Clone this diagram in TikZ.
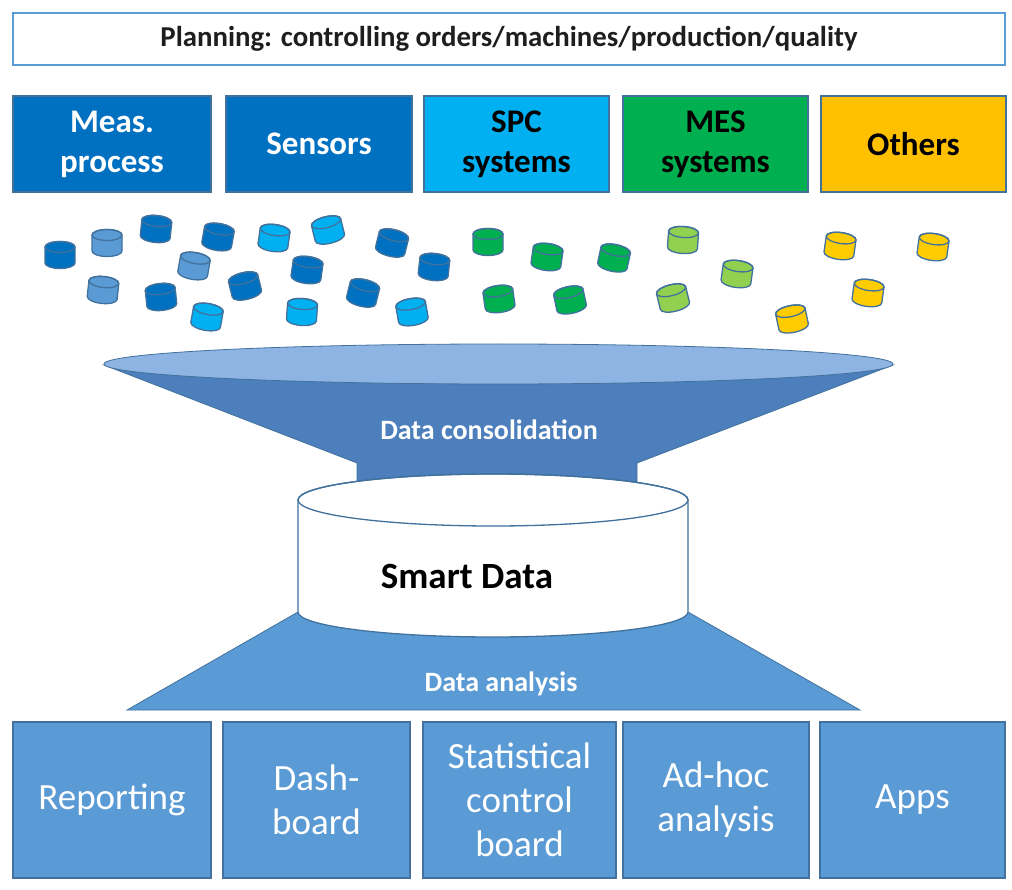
\documentclass[tikz,border=0pt]{standalone}
\usepackage{fontspec}
\setmainfont{Carlito}
\usepackage{tikz}
\definecolor{darkBlue}{RGB}{0,112,192}
\definecolor{skyBlue}{RGB}{0,176,240}
\definecolor{mesGreen}{RGB}{0,176,80}
\definecolor{lightGreen}{RGB}{146,208,80}
\definecolor{othersYellow}{RGB}{255,192,0}
\definecolor{drumYellow}{RGB}{255,204,0}
\definecolor{paleBlue}{RGB}{91,155,213}
\definecolor{lineBlue}{RGB}{65,113,156}
\definecolor{funnelDark}{RGB}{76,127,188}
\definecolor{funnelLight}{RGB}{142,180,227}
\definecolor{titleGray}{RGB}{30,30,30}
\tikzstyle{diagram} = [x = 1pt, y = -1pt]
\tikzstyle{planBoxStyle} = [draw=paleBlue, line width=2pt, fill=white, minimum width=992pt, minimum height=52pt, inner sep=0pt, text=titleGray, font=\fontsize{28.8}{32}\selectfont\bfseries]
\tikzstyle{sourceBoxStyle} = [draw=lineBlue, line width=1.2pt, minimum height=96pt, inner sep=0pt, align=center, font=\fontsize{33}{40}\selectfont\bfseries]
\tikzstyle{toolBoxStyle} = [draw=lineBlue, line width=1.2pt, fill=paleBlue, text=white, minimum height=156pt, inner sep=0pt, align=center, font=\fontsize{37}{44}\selectfont]
\tikzstyle{drumStyle} = [draw=lineBlue, line width=1.3pt]
\tikzstyle{funnelText} = [text=white, font=\fontsize{28}{32}\selectfont\bfseries]
\newcommand{\smallDrum}[4]{
  \begin{scope}[shift={(#1,#2)}, rotate=#3]
    \filldraw [drumStyle, fill=#4] (-15,8) arc [start angle=180, end angle=0, x radius=15, y radius=5.5] -- (15,-8) arc [start angle=0, end angle=-180, x radius=15, y radius=5.5] -- cycle;
    \draw [drumStyle] (0,-8) ellipse [x radius=15, y radius=5.5];
  \end{scope}
}

\begin{document}
\begin{tikzpicture}[diagram]
  \useasboundingbox (0,0) rectangle (1012,890);

  \node [planBoxStyle] (plan) at (509,39) {Planning: controlling orders/machines/production/quality};

  \node [sourceBoxStyle, fill=darkBlue, text=white, minimum width=198pt] (meas) at (112,144) {Meas.\\process};
  \node [sourceBoxStyle, fill=darkBlue, text=white, minimum width=186pt] (sensors) at (319,144) {Sensors};
  \node [sourceBoxStyle, fill=skyBlue, minimum width=185pt] (spc) at (516.5,144) {SPC\\systems};
  \node [sourceBoxStyle, fill=mesGreen, minimum width=185pt] (mes) at (715.5,144) {MES\\systems};
  \node [sourceBoxStyle, fill=othersYellow, minimum width=185pt] (others) at (913.5,144) {Others};

  \foreach \x/\y/\a/\c in {60/255/0/darkBlue, 107/243/0/paleBlue, 156/229/-6/darkBlue, 218/237/-10/darkBlue,
    274/238/-8/skyBlue, 328/230/14/skyBlue, 392/243/-14/darkBlue, 434/267/-6/darkBlue, 194/266/-10/paleBlue,
    307/270/-8/darkBlue, 103/290/-6/paleBlue, 161/297/6/darkBlue, 245/286/14/darkBlue, 363/293/-14/darkBlue,
    207/317/-10/skyBlue, 302/312/-4/skyBlue, 412/312/10/skyBlue,
    488/242/0/mesGreen, 547/257/-8/mesGreen, 614/258/-12/mesGreen, 499/299/8/mesGreen, 570/300/12/mesGreen,
    683/240/-4/lightGreen, 737/274/-8/lightGreen, 673/298/14/lightGreen,
    840/246/-8/drumYellow, 933/247/-8/drumYellow, 868/293/-8/drumYellow, 792/319/12/drumYellow}
    \smallDrum{\x}{\y}{\a}{\c};

  \filldraw [fill=funnelDark, draw=lineBlue, line width=0.8pt] (104,365) -- (357,463) -- (357,520) -- (637,520) -- (637,463) -- (893,365) -- cycle;
  \filldraw [fill=funnelLight, draw=lineBlue, line width=0.8pt] (498.5,364) ellipse [x radius=394.5, y radius=20];
  \filldraw [fill=paleBlue, draw=lineBlue, line width=0.8pt] (298,612) -- (127,710) -- (860,710) -- (688,612) -- cycle;

  \filldraw [draw=lineBlue, line width=1.3pt, fill=white] (298,612) arc [start angle=180, end angle=0, x radius=195, y radius=25] -- (688,500) arc [start angle=0, end angle=-180, x radius=195, y radius=26] -- cycle;
  \draw [draw=lineBlue, line width=1.3pt] (493,500) ellipse [x radius=195, y radius=26];

  \node [funnelText] (consolidation) at (489,430) {Data consolidation};
  \node [font=\fontsize{37}{44}\selectfont\bfseries] (smartData) at (467,577) {Smart Data};
  \node [funnelText] (analysis) at (501,684) {Data analysis};

  \node [toolBoxStyle, minimum width=198pt] (reporting) at (112,800) {Reporting};
  \node [toolBoxStyle, minimum width=187pt] (dashboard) at (316.5,800) {Dash-\\board};
  \node [toolBoxStyle, minimum width=193pt] (statistical) at (519.5,800) {Statistical\\control\\board};
  \node [toolBoxStyle, minimum width=186pt] (adhoc) at (716,800) {Ad-hoc\\analysis};
  \node [toolBoxStyle, minimum width=185pt] (apps) at (912.5,800) {Apps};
\end{tikzpicture}
\end{document}
